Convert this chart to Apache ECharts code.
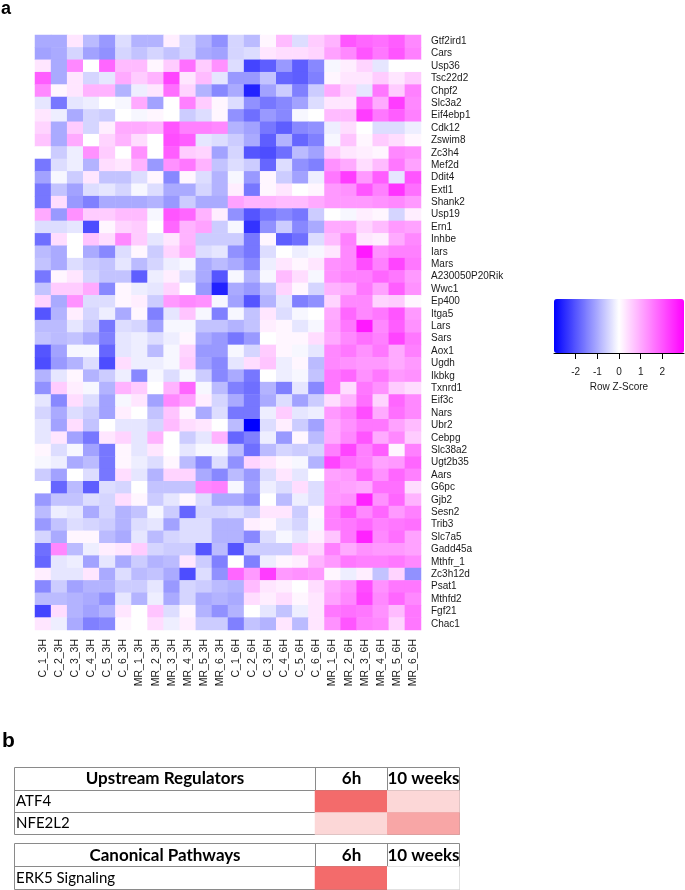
<!DOCTYPE html>
<html>
<head>
<meta charset="utf-8">
<script src="https://cdn.jsdelivr.net/npm/echarts@6/dist/echarts.min.js"></script>
<style>
html,body{margin:0;padding:0;background:#fff;}
#main{width:685px;height:890px;}
</style>
</head>
<body>
<div id="main"></div>
<script>
const samples = ['C_1_3H','C_2_3H','C_3_3H','C_4_3H','C_5_3H','C_6_3H',
  'MR_1_3H','MR_2_3H','MR_3_3H','MR_4_3H','MR_5_3H','MR_6_3H',
  'C_1_6H','C_2_6H','C_3_6H','C_4_6H','C_5_6H','C_6_6H',
  'MR_1_6H','MR_2_6H','MR_3_6H','MR_4_6H','MR_5_6H','MR_6_6H'];

const genes = ['Gtf2ird1','Cars','Usp36','Tsc22d2','Chpf2','Slc3a2','Eif4ebp1','Cdk12',
  'Zswim8','Zc3h4','Mef2d','Ddit4','Extl1','Shank2','Usp19','Ern1','Inhbe','Iars','Mars',
  'A230050P20Rik','Wwc1','Ep400','Itga5','Lars','Sars','Aox1','Ugdh','Ikbkg','Txnrd1',
  'Eif3c','Nars','Ubr2','Cebpg','Slc38a2','Ugt2b35','Aars','G6pc','Gjb2','Sesn2','Trib3',
  'Slc7a5','Gadd45a','Mthfr_1','Zc3h12d','Psat1','Mthfd2','Fgf21','Chac1'];

// Row z-scores, one row per gene, one value per sample
const zScores = [
  [-1.0,-1.0,0.3,-0.8,-1.2,-0.4,-0.9,-0.9,0.2,-0.5,-0.9,-1.3,-0.5,-0.8,0.1,0.8,-0.4,0.6,0.9,2.0,1.8,1.7,1.9,1.4],
  [-1.1,-1.0,-0.5,-1.1,-1.3,-0.5,-0.7,-0.5,-0.7,-0.5,-1.0,-1.1,-0.5,-0.4,0.3,0.4,0.4,0.5,1.1,1.4,2.0,1.6,2.0,1.5],
  [0.3,-1.0,1.4,0.0,1.8,0.8,0.8,0.1,0.6,1.7,0.6,1.3,-0.4,-2.2,-1.9,-1.2,-1.9,-1.4,-0.1,0.2,0.5,-0.3,0.0,0.0],
  [1.9,-1.0,0.3,-0.5,-0.3,1.0,0.6,0.9,2.2,0.3,0.8,-0.3,-1.2,-1.2,-0.7,-1.8,-1.9,-1.5,0.1,0.3,0.3,0.6,0.3,0.6],
  [1.4,0.1,0.3,0.9,0.9,-0.9,-0.2,0.3,1.7,0.5,-0.9,-1.4,-1.0,-2.6,-1.1,-0.6,-1.5,-0.6,1.0,0.5,-0.3,1.6,0.6,1.5],
  [-0.3,-1.6,-0.3,-0.2,0.0,-0.1,1.0,-1.1,0.0,1.5,0.6,0.1,-0.4,-1.3,-1.6,-1.4,-1.1,-0.4,0.3,0.3,1.8,1.0,2.3,1.4],
  [0.3,-0.2,-1.0,-0.5,-0.6,0.0,-0.1,0.1,0.0,-0.6,-0.4,0.1,-1.3,-1.7,-1.2,-1.4,-0.1,0.0,0.8,0.8,2.3,1.6,1.9,1.5],
  [0.5,-1.0,0.6,-0.5,0.2,1.0,1.0,0.9,2.0,1.5,1.5,1.4,-0.9,-1.1,-1.6,-1.9,-1.4,-1.3,-0.2,0.4,0.0,-0.4,-0.4,-0.2],
  [0.7,-1.0,1.0,0.0,0.5,0.9,0.4,0.0,2.1,1.9,-0.3,-0.4,-0.6,-1.0,-1.9,-0.9,-1.8,-1.5,-0.1,0.7,0.1,0.6,0.4,0.1],
  [0.0,-0.6,-0.2,1.3,0.6,0.0,1.3,0.0,1.9,0.6,0.5,-1.1,-0.5,-2.0,-2.1,-1.7,-0.8,-1.1,0.6,0.3,0.2,0.1,1.4,1.3],
  [-1.6,-0.4,-0.2,-0.9,0.4,0.3,0.9,-1.2,1.3,1.6,0.9,-0.7,-0.4,-0.6,-1.8,-0.4,-1.3,-1.5,1.3,1.0,0.4,0.8,1.6,1.1],
  [-1.1,-0.1,-0.6,0.3,-0.7,-0.7,-0.4,0.1,-1.4,0.1,-0.4,-0.9,-0.1,-1.2,0.1,-0.6,-1.1,-0.2,1.6,2.3,1.2,1.9,-0.3,2.0],
  [-1.6,-0.7,-1.1,-0.4,-0.3,-0.5,-0.1,-0.4,-1.0,-1.0,-0.5,-0.9,0.2,-1.6,0.1,0.3,0.0,0.1,1.2,1.3,2.0,1.5,2.4,1.7],
  [-1.6,0.4,-1.2,-1.5,-1.0,-1.0,-1.0,-0.9,-1.2,-0.6,-1.0,-1.0,1.1,0.9,0.9,0.8,0.8,1.0,1.2,1.2,1.2,1.3,1.4,1.2],
  [1.0,-1.2,1.3,0.6,0.6,0.8,0.8,-0.1,2.0,1.8,0.9,0.2,-1.3,-2.0,-1.6,-1.4,-1.6,-0.6,0.0,-0.1,0.2,0.1,-0.5,0.2],
  [-0.4,-0.4,-0.3,-2.1,0.1,0.5,0.6,0.0,1.8,0.9,1.1,-0.6,-0.1,-2.4,-1.3,-0.6,-1.4,-1.0,1.0,1.0,0.5,0.8,1.2,1.1],
  [-1.7,0.4,0.0,0.7,0.4,1.4,0.6,-0.3,0.3,0.9,-0.6,-0.6,-0.6,-1.6,0.1,-1.9,-1.7,-0.4,0.8,1.5,0.3,0.2,1.0,1.4],
  [-0.8,-1.0,0.0,-1.0,-1.4,-0.4,0.1,-0.6,0.5,1.0,-0.4,-0.3,-1.3,-1.6,-0.4,0.0,-0.2,-0.1,0.3,1.4,2.7,1.3,1.5,1.5],
  [-0.7,-1.0,-0.4,-0.6,-0.7,-0.3,-0.8,-0.5,-0.2,-0.1,-1.0,-0.8,-1.0,-1.4,-0.2,0.3,0.1,0.3,1.3,1.4,2.1,1.5,2.2,1.6],
  [-1.6,0.1,0.3,-0.5,-0.7,-0.7,-1.9,-0.2,0.2,-0.4,-1.0,-2.0,-0.1,-0.9,-0.1,0.8,0.4,-0.1,1.3,1.5,1.5,1.8,1.6,1.2],
  [-0.7,0.6,0.6,1.0,-1.4,0.1,-0.2,-0.3,0.5,0.0,-1.2,-2.6,-1.0,-1.2,-0.7,0.5,0.1,-0.5,0.9,1.0,1.6,1.1,1.9,1.3],
  [0.5,-1.0,1.3,-0.4,-0.4,0.1,0.2,-0.6,1.2,1.4,1.3,-0.1,-1.1,-2.0,-0.9,-0.3,-1.5,-1.3,0.5,1.4,1.4,0.5,0.6,0.1],
  [-2.0,-0.9,0.2,-0.5,-0.2,-1.0,0.1,-1.5,-0.3,0.7,-0.1,-1.5,-0.1,-0.7,0.3,-0.4,-0.1,0.0,1.0,1.8,1.4,1.6,2.0,1.2],
  [-0.8,-0.8,-0.3,-0.6,-1.6,-0.4,-0.5,-1.1,-0.1,-0.1,-0.7,-0.7,-0.9,-0.7,0.2,0.1,-0.3,-0.1,1.1,1.6,2.7,1.4,1.9,1.3],
  [-0.7,-0.8,-0.7,-1.0,-1.5,-0.3,-0.2,-0.4,-0.2,0.1,-1.0,-1.2,-1.6,-1.2,0.0,0.1,0.1,0.4,1.0,1.4,1.7,1.5,2.2,1.6],
  [-2.0,-1.1,-0.1,-0.1,-1.8,-0.3,-0.2,-0.8,-0.1,0.5,-1.2,-1.2,-0.1,-0.5,0.6,0.1,-0.1,-0.3,1.4,1.6,1.3,1.6,1.0,1.5],
  [-2.1,-1.2,-0.9,-0.4,-2.1,0.4,-0.2,-0.2,-0.1,0.6,-1.1,-1.4,-0.3,0.4,0.7,-0.2,0.1,-0.8,1.4,1.3,1.2,1.2,1.0,1.2],
  [-0.9,-0.3,0.1,-0.9,-0.6,-0.2,-1.4,-0.1,-0.4,-0.1,-0.6,-1.4,-1.0,-1.6,0.0,-0.2,-0.1,-0.7,1.6,1.8,1.3,1.6,1.2,1.3],
  [-1.3,0.6,0.2,-0.1,-0.9,0.9,0.6,0.0,0.9,1.8,-0.1,-0.8,-1.5,-1.7,-0.9,-1.5,-0.3,-1.4,1.6,0.4,1.6,1.3,0.6,0.4],
  [-0.3,-1.4,0.4,-0.4,-1.1,-0.1,0.3,-1.1,1.4,1.1,0.2,-0.5,-1.0,-1.6,-1.0,-0.4,-1.1,-0.6,0.4,0.9,1.7,0.5,1.8,1.4],
  [-0.5,-1.0,-0.4,-0.6,-1.1,0.2,0.0,-0.7,0.7,0.1,-1.0,-0.4,-1.6,-1.6,-0.2,0.6,-0.3,-0.2,1.2,1.5,2.1,1.0,1.7,1.4],
  [-0.3,-1.1,0.4,-0.7,0.0,-0.3,-0.3,-0.5,0.8,0.4,0.3,0.0,-0.8,-3.0,-0.4,0.2,-0.6,-1.1,1.0,1.3,1.6,1.6,1.1,0.8],
  [-0.3,0.3,-1.1,-1.6,0.3,0.5,-0.3,0.9,0.0,-0.6,-0.3,0.9,-1.8,-1.5,-0.2,-1.2,0.1,-0.8,1.0,1.4,2.0,1.0,1.4,0.6],
  [0.1,-0.4,-0.1,-1.1,-1.6,0.1,-0.3,0.3,0.0,-0.3,-0.1,-0.1,-0.8,-1.7,-0.8,-0.5,-0.6,-0.5,1.5,2.2,1.5,1.9,0.1,1.5],
  [-0.1,-0.2,-1.0,-0.8,-1.6,0.1,-0.2,-0.4,0.1,-0.8,-1.4,-0.4,-1.3,0.5,0.3,0.1,-0.1,-0.9,2.2,1.7,1.5,1.1,1.2,1.8],
  [-0.6,-1.1,0.0,-0.4,-1.6,0.4,-0.3,-0.9,0.5,0.5,-1.0,-1.4,-0.8,-1.2,-0.4,0.3,-0.3,0.0,1.1,1.2,1.8,1.3,1.8,1.5],
  [0.0,-1.8,-0.8,-1.9,-0.4,-0.5,0.0,-0.7,-0.7,-0.7,1.4,1.5,-0.1,-1.1,-0.2,-0.4,0.4,-0.4,1.2,1.1,1.0,1.7,1.7,0.4],
  [-1.2,-0.7,-0.7,-0.4,-0.5,0.4,0.1,-0.6,-0.3,0.1,-0.4,-1.0,-1.0,-1.3,0.0,-0.8,-0.2,-0.4,1.2,1.3,2.6,1.3,1.8,0.9],
  [-0.8,-0.2,-0.3,-1.0,-0.5,-0.9,-0.7,-0.1,-0.6,-1.8,-0.5,-0.5,-0.4,-0.6,0.3,0.3,-0.6,0.1,1.5,2.0,1.4,1.8,1.2,1.5],
  [-1.2,-0.7,-0.4,-0.5,-0.6,-0.9,-0.4,-0.3,-1.1,-0.4,-0.4,-0.9,-0.9,0.2,0.1,-0.3,-0.5,-0.1,1.5,1.6,1.8,1.5,1.6,1.7],
  [-0.5,-1.0,0.1,0.1,-0.8,-1.0,-0.3,-0.8,-0.5,-0.4,-0.4,-0.9,-0.9,-1.4,-0.4,-0.1,-0.3,0.2,0.7,1.6,2.6,1.4,1.7,1.1],
  [-1.7,1.4,-0.8,-0.2,0.2,0.3,0.6,-0.5,-0.6,-0.6,-2.0,-0.8,-2.0,-0.6,-0.6,-0.6,0.7,0.5,1.5,1.0,1.3,1.2,1.2,1.1],
  [-1.8,-0.3,-0.2,-1.1,-0.3,-1.0,-0.6,-0.9,-0.8,0.3,-0.6,-1.5,0.0,-1.5,-0.2,0.1,0.2,0.9,1.2,1.6,1.5,1.5,1.6,1.4],
  [0.2,-0.3,-0.3,0.3,-1.0,-0.4,-0.8,-0.7,-1.0,-2.1,-0.4,-1.3,1.8,1.2,2.3,1.2,1.3,1.2,0.1,-0.2,0.2,-0.7,0.5,-1.3],
  [-1.4,-0.6,-1.1,-0.9,-0.9,-0.6,-0.6,-0.3,-1.2,-0.5,-0.6,-0.8,-0.9,0.8,0.3,0.2,0.0,0.4,1.0,1.3,2.1,1.3,1.6,1.6],
  [-0.8,-0.8,-0.9,-1.0,-1.3,-0.3,-0.9,-0.2,-1.0,-0.5,-1.0,-0.9,-1.0,0.4,0.2,0.4,0.1,0.3,1.1,1.4,2.2,1.4,1.8,1.4],
  [-2.2,0.4,-0.9,-1.1,-0.9,0.3,0.0,0.7,-0.4,0.1,-0.9,-1.3,-0.9,0.0,-0.3,-0.7,-0.2,0.3,1.6,1.7,1.6,1.3,0.8,1.6],
  [0.3,-0.2,-1.0,-1.5,-1.4,0.1,0.0,0.4,-0.2,0.2,-0.6,-0.6,-1.5,-0.7,-0.9,0.3,-0.8,0.3,1.3,2.0,1.5,1.4,0.5,1.6]
];

const legendTicks = [-2, -1, 0, 1, 2];

// Panel b tables
const tableCols = ['6h', '10 weeks'];
const regulators = ['ATF4', 'NFE2L2'];
const regulatorScores = [[1.0, 0.27], [0.27, 0.6]];
const pathways = ['ERK5 Signaling'];
const pathwayScores = [[1.0, 0.0]];

// ---- build data ----
const heatData = [];
zScores.forEach((row, i) => row.forEach((v, j) => heatData.push([j, i, v])));
const regData = [];
regulatorScores.forEach((row, i) => row.forEach((v, j) => regData.push([j, i, v])));
const pathData = [];
pathwayScores.forEach((row, i) => row.forEach((v, j) => pathData.push([j, i, v])));

const chart = echarts.init(document.getElementById('main'), null, {renderer: 'canvas'});

const lineCol = '#8a8a8a';
function hline(x1, x2, y) { return {type: 'line', shape: {x1, y1: y, x2, y2: y}, style: {stroke: lineCol, lineWidth: 1}}; }
function vline(x, y1, y2) { return {type: 'line', shape: {x1: x, y1, x2: x, y2}, style: {stroke: lineCol, lineWidth: 1}}; }
function txt(text, x, y, font, align) {
  return {type: 'text', x, y, style: {text, font, fill: '#000', align: align || 'left', verticalAlign: 'middle'}};
}

const T1 = {l: 14.5, r: 459.5, c1: 315.5, c2: 387.5, top: 767.5, rows: [790.5, 812.5], bot: 834.5};
const T2 = {l: 14.5, r: 459.5, c1: 315.5, c2: 387.5, top: 843.5, rows: [866.5], bot: 889.5};

const graphics = [
  {type: 'text', x: 1, y: 0, style: {text: 'a', font: 'bold 18px "Liberation Sans", Arial', fill: '#000'}},
  {type: 'text', x: 2, y: 731, style: {text: 'b', font: 'bold 21px "Liberation Sans", Arial', fill: '#000'}}
];
[T1, T2].forEach(t => {
  graphics.push(hline(t.l, t.r, t.top), hline(t.l, t.r, t.bot), vline(t.l, t.top, t.bot), vline(t.r, t.top, t.bot),
    vline(t.c1, t.top, t.bot), vline(t.c2, t.top, t.bot));
  t.rows.forEach(y => graphics.push(hline(t.l, t.r, y)));
});
const hf = 'bold 17px Lato, "Open Sans", sans-serif';
const rf = '15px Lato, "Open Sans", sans-serif';
graphics.push(txt('Upstream Regulators', (T1.l + T1.c1) / 2, 779, hf, 'center'));
graphics.push(txt(tableCols[0], (T1.c1 + T1.c2) / 2, 779, hf, 'center'));
graphics.push(txt(tableCols[1], (T1.c2 + T1.r) / 2, 779, hf, 'center'));
regulators.forEach((r, i) => graphics.push(txt(r, 16, 801.5 + i * 22, rf, 'left')));
graphics.push(txt('Canonical Pathways', (T2.l + T2.c1) / 2, 855.5, hf, 'center'));
graphics.push(txt(tableCols[0], (T2.c1 + T2.c2) / 2, 855.5, hf, 'center'));
graphics.push(txt(tableCols[1], (T2.c2 + T2.r) / 2, 855.5, hf, 'center'));
pathways.forEach((r, i) => graphics.push(txt(r, 16, 878.5 + i * 23, rf, 'left')));

const labelFont = {fontFamily: '"Liberation Sans", Arial, sans-serif', fontSize: 10, color: '#1a1a1a'};

const option = {
  animation: false,
  backgroundColor: '#ffffff',
  grid: [
    {left: 35, top: 35, width: 386, height: 595},
    {left: 554, top: 299, width: 130, height: 54},
    {left: 315, top: 790.5, width: 144.5, height: 44},
    {left: 315, top: 866.5, width: 144.5, height: 23}
  ],
  xAxis: [
    {gridIndex: 0, type: 'category', data: samples, position: 'bottom',
     axisLine: {show: false}, axisTick: {show: false}, splitLine: {show: false},
     axisLabel: Object.assign({rotate: 90, margin: 9, interval: 0}, labelFont, {fontSize: 10.5})},
    {gridIndex: 1, type: 'value', min: -3, max: 3, interval: 1, position: 'bottom',
     axisLine: {show: true, onZero: false, lineStyle: {color: '#000', width: 1}},
     axisTick: {show: true, customValues: legendTicks, length: 6, lineStyle: {color: '#000'}},
     axisLabel: Object.assign({customValues: legendTicks, margin: 14}, labelFont),
     splitLine: {show: false},
     name: 'Row Z-Score', nameLocation: 'middle', nameGap: 29,
     nameTextStyle: labelFont},
    {gridIndex: 2, type: 'category', data: tableCols, show: false},
    {gridIndex: 3, type: 'category', data: tableCols, show: false}
  ],
  yAxis: [
    {gridIndex: 0, type: 'category', data: genes, inverse: true, position: 'right',
     axisLine: {show: false}, axisTick: {show: false}, splitLine: {show: false},
     axisLabel: Object.assign({margin: 10, interval: 0}, labelFont)},
    {gridIndex: 1, type: 'value', min: 0, max: 1, show: false},
    {gridIndex: 2, type: 'category', data: regulators, inverse: true, show: false},
    {gridIndex: 3, type: 'category', data: pathways, inverse: true, show: false}
  ],
  visualMap: [
    {type: 'continuous', seriesIndex: 0, min: -3, max: 3, orient: 'horizontal',
     left: 554, top: 299, itemWidth: 54, itemHeight: 130, padding: 0,
     calculable: false, hoverLink: false, text: null, showLabel: false,
     inRange: {color: ['#0000ff', '#ffffff', '#ff00ff']}},
    {type: 'continuous', seriesIndex: [1, 2], min: 0, max: 1, show: false,
     inRange: {color: ['#ffffff', '#f36b6b']}}
  ],
  series: [
    {type: 'heatmap', xAxisIndex: 0, yAxisIndex: 0, data: heatData, progressive: 0,
     emphasis: {disabled: true}, itemStyle: {borderWidth: 0}},
    {type: 'heatmap', xAxisIndex: 2, yAxisIndex: 2, data: regData, progressive: 0,
     emphasis: {disabled: true}},
    {type: 'heatmap', xAxisIndex: 3, yAxisIndex: 3, data: pathData, progressive: 0,
     emphasis: {disabled: true}}
  ],
  graphic: graphics
};
chart.setOption(option);
</script>
</body>
</html>
